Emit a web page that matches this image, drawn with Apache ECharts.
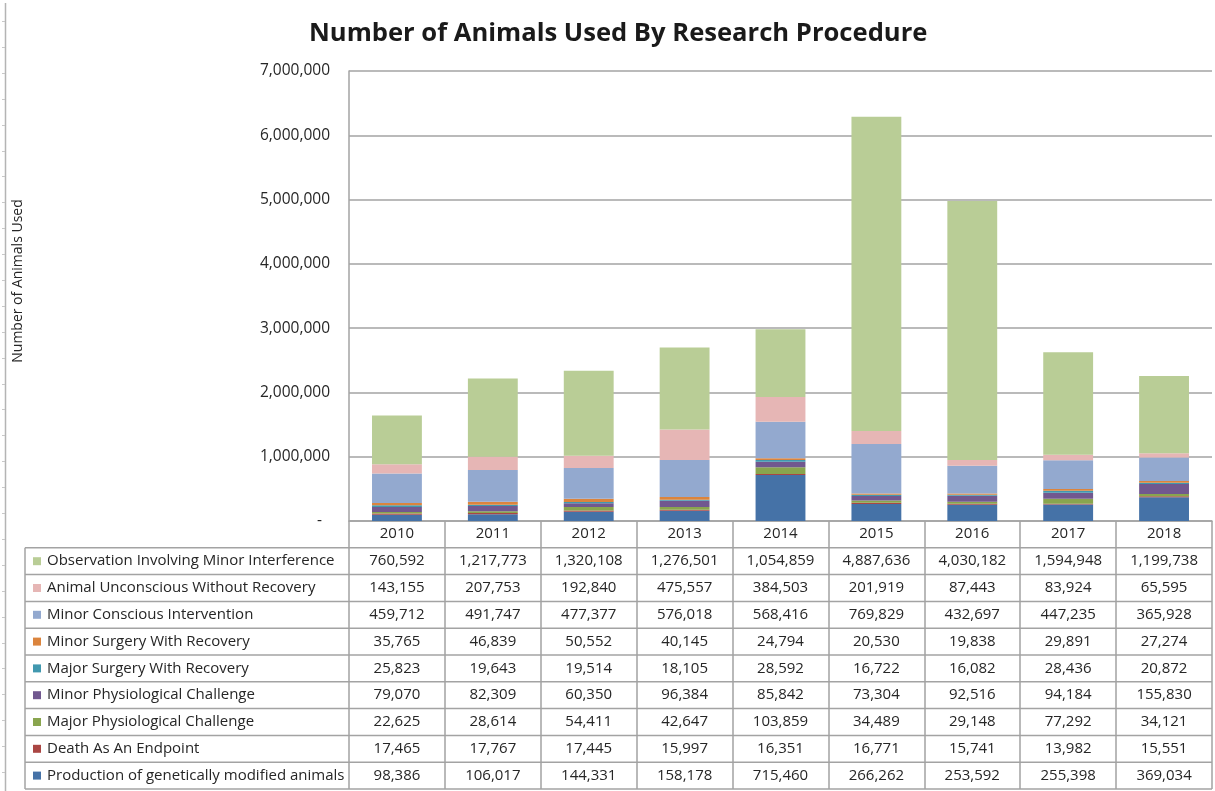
<!DOCTYPE html>
<html>
<head>
<meta charset="utf-8">
<script src="https://cdn.jsdelivr.net/npm/echarts@6/dist/echarts.min.js"></script>
<style>
  html, body { margin: 0; padding: 0; background: #ffffff; }
  #chart { width: 1215px; height: 791px; }
</style>
</head>
<body>
<div id="chart"></div>
<script>
// Years on the category axis
const years = ['2010', '2011', '2012', '2013', '2014', '2015', '2016', '2017', '2018'];

// Animals used per procedure type, one array per series (bottom of stack first)
const production     = [98386, 106017, 144331, 158178, 715460, 266262, 253592, 255398, 369034];
const death          = [17465, 17767, 17445, 15997, 16351, 16771, 15741, 13982, 15551];
const majorPhysio    = [22625, 28614, 54411, 42647, 103859, 34489, 29148, 77292, 34121];
const minorPhysio    = [79070, 82309, 60350, 96384, 85842, 73304, 92516, 94184, 155830];
const majorSurgery   = [25823, 19643, 19514, 18105, 28592, 16722, 16082, 28436, 20872];
const minorSurgery   = [35765, 46839, 50552, 40145, 24794, 20530, 19838, 29891, 27274];
const minorConscious = [459712, 491747, 477377, 576018, 568416, 769829, 432697, 447235, 365928];
const unconscious    = [143155, 207753, 192840, 475557, 384503, 201919, 87443, 83924, 65595];
const observation    = [760592, 1217773, 1320108, 1276501, 1054859, 4887636, 4030182, 1594948, 1199738];

// Value axis range
const yMax = 7000000;
const yStep = 1000000;

const FONT = '"Open Sans", "DejaVu Sans", sans-serif';
const TEXT = '#262626';
const LINE = '#a3a3a3';

const seriesDefs = [
  { name: 'Production of genetically modified animals', data: production,     color: '#4572a7' },
  { name: 'Death As An Endpoint',                       data: death,          color: '#aa4643' },
  { name: 'Major Physiological Challenge',              data: majorPhysio,    color: '#89a54e' },
  { name: 'Minor Physiological Challenge',              data: minorPhysio,    color: '#71588f' },
  { name: 'Major Surgery With Recovery',                data: majorSurgery,   color: '#4198af' },
  { name: 'Minor Surgery With Recovery',                data: minorSurgery,   color: '#db843d' },
  { name: 'Minor Conscious Intervention',               data: minorConscious, color: '#93a9cf' },
  { name: 'Animal Unconscious Without Recovery',        data: unconscious,    color: '#e6b6b5' },
  { name: 'Observation Involving Minor Interference',   data: observation,    color: '#b9cd96' }
];

const fmt = v => v.toLocaleString('en-US');

const chart = echarts.init(document.getElementById('chart'), null, { renderer: 'canvas' });

chart.setOption({
  animation: false,
  backgroundColor: '#ffffff',
  title: {
    text: 'Number of Animals Used By Research Procedure',
    left: 304,
    top: 16,
    textStyle: { fontFamily: FONT, fontWeight: 'bold', fontSize: 25.6, color: '#1a1a1a' }
  },
  grid: { left: 349, right: 3, top: 71, bottom: 270, containLabel: false },
  xAxis: {
    type: 'category',
    data: years,
    axisLine: { show: true, lineStyle: { color: LINE, width: 1.5 } },
    axisTick: { show: true, length: 268, lineStyle: { color: LINE, width: 1.5 } },
    axisLabel: { margin: 5, fontFamily: FONT, fontSize: 15, color: TEXT }
  },
  yAxis: {
    type: 'value',
    min: 0,
    max: yMax,
    interval: yStep,
    axisLine: { show: true, lineStyle: { color: LINE, width: 1.5 } },
    axisTick: { show: false },
    splitLine: { lineStyle: { color: LINE, width: 1.5 } },
    axisLabel: {
      margin: 19,
      fontFamily: FONT,
      fontSize: 15.5,
      color: TEXT,
      formatter: v => (v === 0 ? '-  ' : fmt(v))
    }
  },
  series: seriesDefs.map(s => ({
    name: s.name,
    type: 'bar',
    stack: 'total',
    barWidth: '52%',
    data: s.data,
    itemStyle: { color: s.color }
  }))
});

// Data table beneath the plot, aligned to the category axis
function drawTable() {
  const c0 = chart.convertToPixel({ xAxisIndex: 0 }, 0);
  const c1 = chart.convertToPixel({ xAxisIndex: 0 }, 1);
  const band = c1 - c0;
  const plotRight = chart.convertToPixel({ xAxisIndex: 0 }, years.length - 1) + band / 2;
  const y0 = chart.convertToPixel({ yAxisIndex: 0 }, 0);
  const rowH = 26.8;
  const tableLeft = 25;
  const elements = [];

  // Horizontal rules of the table
  for (let k = 1; k <= seriesDefs.length + 1; k++) {
    const y = y0 + k * rowH;
    elements.push({
      type: 'line', silent: true,
      shape: { x1: tableLeft, y1: y, x2: plotRight, y2: y },
      style: { stroke: LINE, lineWidth: 1.5 }
    });
  }
  // Left border of the label column
  elements.push({
    type: 'line', silent: true,
    shape: { x1: tableLeft, y1: y0 + rowH, x2: tableLeft, y2: y0 + (seriesDefs.length + 1) * rowH },
    style: { stroke: LINE, lineWidth: 1.5 }
  });

  // One row per series, topmost stack segment first
  const rows = seriesDefs.slice().reverse();
  rows.forEach((s, r) => {
    const cy = y0 + (r + 1.5) * rowH;
    elements.push({
      type: 'rect', silent: true,
      shape: { x: 33, y: cy - 4, width: 8, height: 8 },
      style: { fill: s.color }
    });
    elements.push({
      type: 'text', silent: true,
      x: 47, y: cy,
      style: { text: s.name, fontFamily: FONT, fontSize: 15, fill: TEXT, verticalAlign: 'middle', align: 'left' }
    });
    s.data.forEach((v, i) => {
      elements.push({
        type: 'text', silent: true,
        x: chart.convertToPixel({ xAxisIndex: 0 }, i), y: cy,
        style: { text: fmt(v), fontFamily: FONT, fontSize: 15, fill: TEXT, verticalAlign: 'middle', align: 'center' }
      });
    });
  });

  // Axis title along the left side
  elements.push({
    type: 'text', silent: true,
    x: 18, y: 281, rotation: Math.PI / 2,
    style: { text: 'Number of Animals Used', fontFamily: FONT, fontSize: 14, fill: TEXT, align: 'center', verticalAlign: 'middle' }
  });

  // Page ruler on the far left edge
  elements.push({
    type: 'line', silent: true,
    shape: { x1: 5.5, y1: 3, x2: 5.5, y2: 791 },
    style: { stroke: '#b4b4b4', lineWidth: 1.5 }
  });
  for (let y = 21; y < 791; y += 25.9) {
    elements.push({
      type: 'line', silent: true,
      shape: { x1: 2, y1: Math.round(y) + 0.5, x2: 5, y2: Math.round(y) + 0.5 },
      style: { stroke: '#c8c8c8', lineWidth: 1 }
    });
  }

  chart.setOption({ graphic: { elements } });
}

drawTable();
</script>
</body>
</html>
